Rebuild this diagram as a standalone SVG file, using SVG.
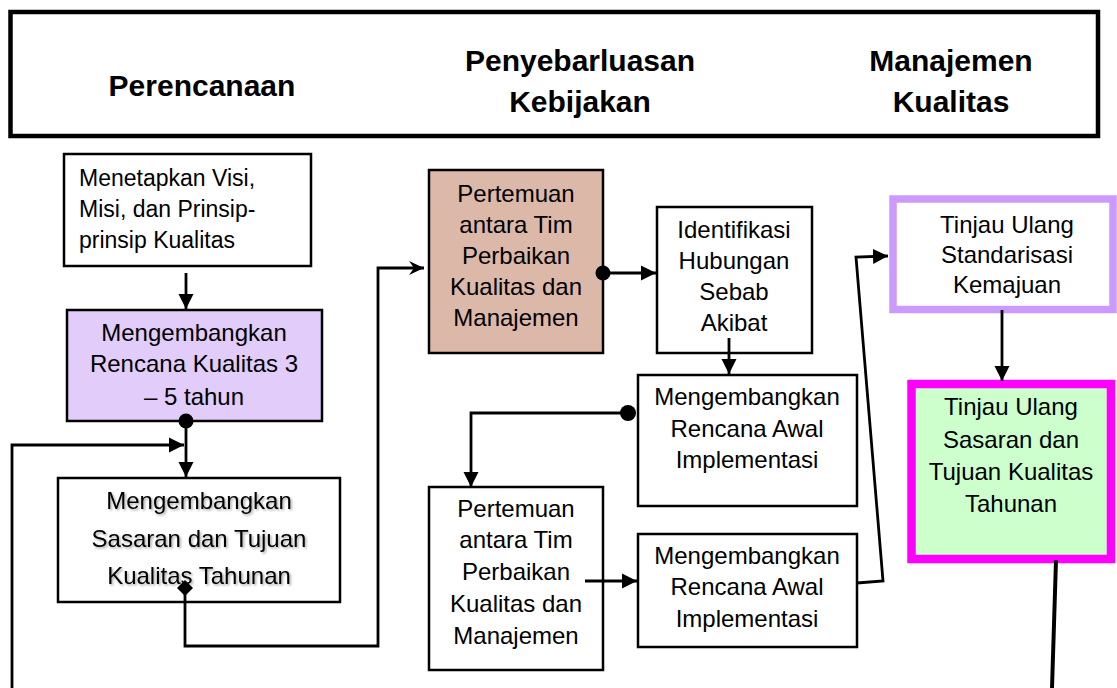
<svg xmlns="http://www.w3.org/2000/svg" width="1117" height="688" viewBox="0 0 1117 688">
<style>
.hdr{font-family:"Liberation Sans",Arial,sans-serif;font-weight:bold;font-size:30px;fill:#000;text-anchor:middle}
.t{font-family:"Liberation Sans",Arial,sans-serif;font-size:24px;fill:#000;text-anchor:middle}
.tl{font-family:"Liberation Sans",Arial,sans-serif;font-size:23px;fill:#000}
.box{stroke:#000;stroke-width:2.5;fill:#fff}
.ln{fill:none;stroke:#000;stroke-width:2.8}
</style>
<defs>
<marker id="ah" markerUnits="userSpaceOnUse" markerWidth="16" markerHeight="16" refX="15" refY="8" orient="auto">
<path d="M0,0.5 L15,8 L0,15.5 z" fill="#000"/>
</marker>
<marker id="ao" markerUnits="userSpaceOnUse" markerWidth="16" markerHeight="14" refX="15" refY="7" orient="auto">
<path d="M0,0 L15,7 L0,14 L5,7 z" fill="#000"/>
</marker>
<filter id="sh" x="-10%" y="-30%" width="120%" height="160%">
<feDropShadow dx="1.5" dy="1.5" stdDeviation="1.2" flood-color="#000" flood-opacity="0.35"/>
</filter>
</defs>

<g id="header">
<rect x="10.5" y="12" width="1087.5" height="124" fill="#fff" stroke="#000" stroke-width="4.5"/>
<text class="hdr" x="202" y="96">Perencanaan</text>
<text class="hdr" x="580" y="71">Penyebarluasan</text>
<text class="hdr" x="580" y="112">Kebijakan</text>
<text class="hdr" x="951" y="71">Manajemen</text>
<text class="hdr" x="951" y="112">Kualitas</text>
</g>

<g id="n1">
<rect class="box" x="64" y="154" width="247" height="112"/>
<text class="tl" x="79" y="186">Menetapkan Visi,</text>
<text class="tl" x="79" y="217">Misi, dan Prinsip-</text>
<text class="tl" x="79" y="248">prinsip Kualitas</text>
</g>

<g id="n2">
<rect class="box" x="67" y="310" width="255" height="111" fill="#e1ccfa" style="fill:#e1ccfa"/>
<text class="t" x="194" y="341">Mengembangkan</text>
<text class="t" x="194" y="372">Rencana Kualitas 3</text>
<text class="t" x="194" y="405">– 5 tahun</text>
</g>

<g id="n3">
<rect class="box" x="58" y="478" width="282" height="124"/>
<g filter="url(#sh)">
<text class="t" x="199" y="509">Mengembangkan</text>
<text class="t" x="199" y="547">Sasaran dan Tujuan</text>
<text class="t" x="199" y="584">Kualitas Tahunan</text>
</g>
</g>

<g id="n4">
<rect class="box" x="429" y="170" width="174" height="183" style="fill:#dcb8a8"/>
<text class="t" x="516" y="202">Pertemuan</text>
<text class="t" x="516" y="233">antara Tim</text>
<text class="t" x="516" y="264">Perbaikan</text>
<text class="t" x="516" y="295">Kualitas dan</text>
<text class="t" x="516" y="326">Manajemen</text>
</g>

<g id="n5">
<rect class="box" x="657" y="207" width="155" height="146"/>
<text class="t" x="734" y="238">Identifikasi</text>
<text class="t" x="734" y="269">Hubungan</text>
<text class="t" x="734" y="300">Sebab</text>
<text class="t" x="734" y="331">Akibat</text>
</g>

<g id="n6">
<rect class="box" x="638" y="375" width="219" height="131"/>
<text class="t" x="747" y="405">Mengembangkan</text>
<text class="t" x="747" y="437">Rencana Awal</text>
<text class="t" x="747" y="468">Implementasi</text>
</g>

<g id="n7">
<rect class="box" x="429" y="487" width="174" height="183"/>
<text class="t" x="516" y="517">Pertemuan</text>
<text class="t" x="516" y="548">antara Tim</text>
<text class="t" x="516" y="580">Perbaikan</text>
<text class="t" x="516" y="612">Kualitas dan</text>
<text class="t" x="516" y="644">Manajemen</text>
</g>

<g id="n8">
<rect class="box" x="638" y="534" width="219" height="113"/>
<text class="t" x="747" y="564">Mengembangkan</text>
<text class="t" x="747" y="595">Rencana Awal</text>
<text class="t" x="747" y="627">Implementasi</text>
</g>

<g id="n9">
<rect x="893" y="199" width="220" height="110.5" fill="#fff" stroke="#cc99ff" stroke-width="7.5"/>
<text class="t" x="1007" y="233">Tinjau Ulang</text>
<text class="t" x="1007" y="263">Standarisasi</text>
<text class="t" x="1007" y="293">Kemajuan</text>
</g>

<g id="n10">
<rect x="911.5" y="384" width="199.5" height="175" fill="#ccffcc" stroke="#ff00ff" stroke-width="8.5"/>
<text class="t" x="1011" y="415">Tinjau Ulang</text>
<text class="t" x="1011" y="448">Sasaran dan</text>
<text class="t" x="1011" y="480">Tujuan Kualitas</text>
<text class="t" x="1011" y="512">Tahunan</text>
</g>

<g id="connectors">
<path class="ln" d="M186,273 V309" marker-end="url(#ah)"/>
<path class="ln" d="M186,421 V477" marker-end="url(#ah)"/>
<circle cx="186" cy="421" r="7.5" fill="#000"/>
<path class="ln" d="M12,688 V445 H184" marker-end="url(#ah)"/>
<path class="ln" d="M185,588 V646 H378 V268 H424" marker-end="url(#ao)"/>
<path d="M185,580 L193,588 L185,596 L177,588 z" fill="#000"/>
<path class="ln" d="M603,273 H656" marker-end="url(#ah)"/>
<circle cx="603" cy="273" r="7.5" fill="#000"/>
<path class="ln" d="M729,338 V374" marker-end="url(#ah)"/>
<path class="ln" d="M628,413 H471 V487" marker-end="url(#ah)"/>
<circle cx="628" cy="413" r="8" fill="#000"/>
<path class="ln" d="M585,581 H637" marker-end="url(#ah)"/>
<path class="ln" d="M857,583 L883,581 L856,257 L888,256" marker-end="url(#ah)"/>
<path class="ln" d="M1002,310 V381" marker-end="url(#ah)"/>
<path class="ln" d="M1056,560 L1052,688" style="stroke-width:4"/>
</g>
</svg>
